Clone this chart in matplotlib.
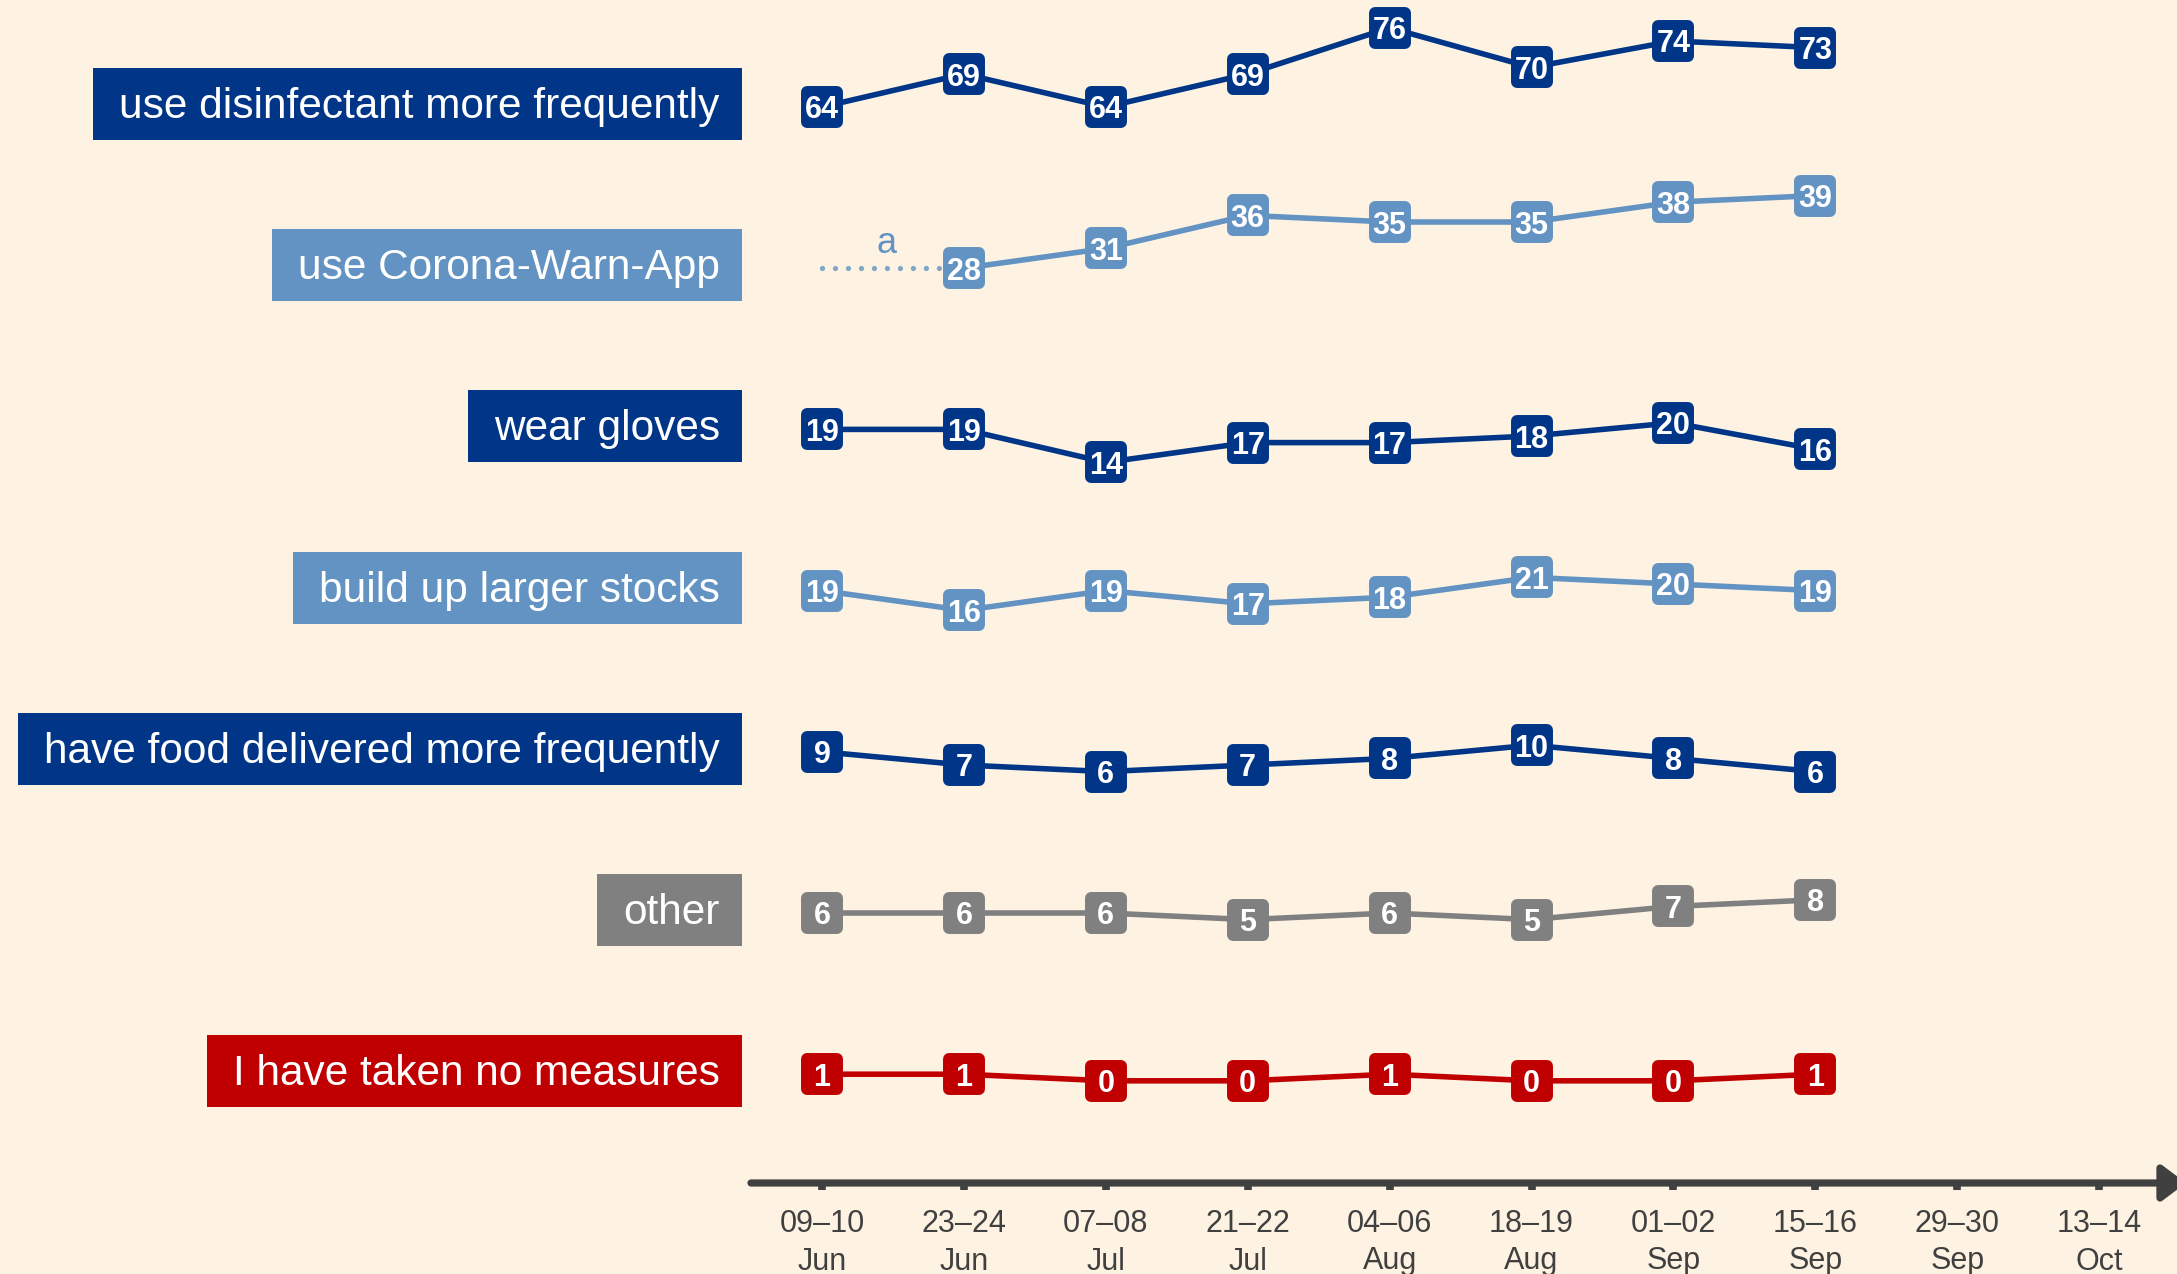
import matplotlib
matplotlib.use('Agg')
import matplotlib.pyplot as plt
from matplotlib.markers import MarkerStyle
from matplotlib.patches import Rectangle

plt.rcParams['font.family'] = ['Liberation Sans', 'DejaVu Sans']

# survey waves (x axis)
period_days = ['09–10', '23–24', '07–08', '21–22', '04–06', '18–19', '01–02', '15–16', '29–30', '13–14']
period_months = ['Jun', 'Jun', 'Jul', 'Jul', 'Aug', 'Aug', 'Sep', 'Sep', 'Sep', 'Oct']

measures = ['use disinfectant more frequently', 'use Corona-Warn-App', 'wear gloves',
            'build up larger stocks', 'have food delivered more frequently', 'other',
            'I have taken no measures']

# values in percent, one per wave (None = not asked)
disinfectant = [64, 69, 64, 69, 76, 70, 74, 73]
corona_app = [None, 28, 31, 36, 35, 35, 38, 39]
gloves = [19, 19, 14, 17, 17, 18, 20, 16]
stocks = [19, 16, 19, 17, 18, 21, 20, 19]
food_delivered = [9, 7, 6, 7, 8, 10, 8, 6]
other = [6, 6, 6, 5, 6, 5, 7, 8]
no_measures = [1, 1, 0, 0, 1, 0, 0, 1]

series = [disinfectant, corona_app, gloves, stocks, food_delivered, other, no_measures]

DARK = '#003587'
LIGHT = '#6393c2'
GREY = '#808080'
RED = '#c00000'
BG = '#fef3e2'
AXIS = '#404040'
colors = [DARK, LIGHT, DARK, LIGHT, DARK, GREY, RED]

W, H = 2177, 1274
fig = plt.figure(figsize=(W / 100, H / 100), dpi=100, facecolor=BG)
ax = fig.add_axes([0, 0, 1, 1])
ax.set_facecolor(BG)
ax.axis('off')

# layout: one x unit per wave, one y unit per percentage point
DX = 141.9   # px per wave
PX = 6.6     # px per percentage point
X0 = 822     # px of first wave
ax.set_xlim(-X0 / DX, (W - X0) / DX)
ax.set_ylim(H / PX, 0)
px_x = 1 / DX
px_y = 1 / PX

TOP = 107 * px_y
ROW_GAP = 161.2 * px_y

box_marker = MarkerStyle('s', joinstyle='round')

label_texts = []
for r, (name, vals, col) in enumerate(zip(measures, series, colors)):
    first = next(v for v in vals if v is not None)
    base = TOP + r * ROW_GAP
    xs = [i for i, v in enumerate(vals) if v is not None]
    ys = [base + (first - v) for v in vals if v is not None]

    ax.plot(xs, ys, color=col, lw=4, zorder=2, solid_joinstyle='round')
    ax.plot(xs, ys, ls='none', marker=box_marker, markersize=21.6, markeredgewidth=8.6,
            color=col, markerfacecolor=col, markeredgecolor=col, zorder=3)
    for x, y, v in zip(xs, ys, [v for v in vals if v is not None]):
        ax.text(x, y, str(v), color='white', fontsize=22, fontweight='bold',
                ha='center', va='center_baseline', zorder=4)

    if vals[0] is None:
        ax.plot([0, xs[0]], [ys[0], ys[0]], color=LIGHT, alpha=0.8, lw=3.8,
                ls=(0, (0.01, 2.45)), dash_capstyle='round', zorder=1)
        ax.text(0.458, ys[0] - 15 * px_y, 'a', color=LIGHT, fontsize=26,
                ha='center', va='baseline')

    lab_y = base - 3 * px_y
    t = ax.text(-0.72, lab_y + 14 * px_y, name, color='white', fontsize=30.5,
                ha='right', va='baseline', zorder=4)
    label_texts.append((t, lab_y, col))

# label boxes sized to their text
fig.canvas.draw()
renderer = fig.canvas.get_renderer()
inv = ax.transData.inverted()
box_right = (742 - X0) / DX
box_h = 72 * px_y
for t, yc, col in label_texts:
    bb = t.get_window_extent(renderer)
    left = inv.transform((bb.x0, bb.y0))[0] - 26 * px_x
    ax.add_patch(Rectangle((left, yc - box_h / 2), box_right - left, box_h,
                           facecolor=col, edgecolor='none', zorder=3))

# x axis with arrow
y_axis = 1183 * px_y
ax.annotate('', xy=((2186 - X0) / DX, y_axis), xytext=((751 - X0) / DX, y_axis),
            annotation_clip=False,
            arrowprops=dict(arrowstyle='-|>,head_length=0.72,head_width=0.54',
                            mutation_scale=20, lw=5.2, color=AXIS,
                            shrinkA=0, shrinkB=0))
ax.vlines(range(len(period_days)), y_axis, y_axis + 7 * px_y, color=AXIS, lw=5.5)
for i, (d, m) in enumerate(zip(period_days, period_months)):
    ax.text(i, 1221 * px_y, d, color=AXIS, fontsize=22, ha='center', va='center_baseline')
    ax.text(i, 1258 * px_y, m, color=AXIS, fontsize=22, ha='center', va='center_baseline')

fig.savefig('out.png', dpi=100, facecolor=BG)
